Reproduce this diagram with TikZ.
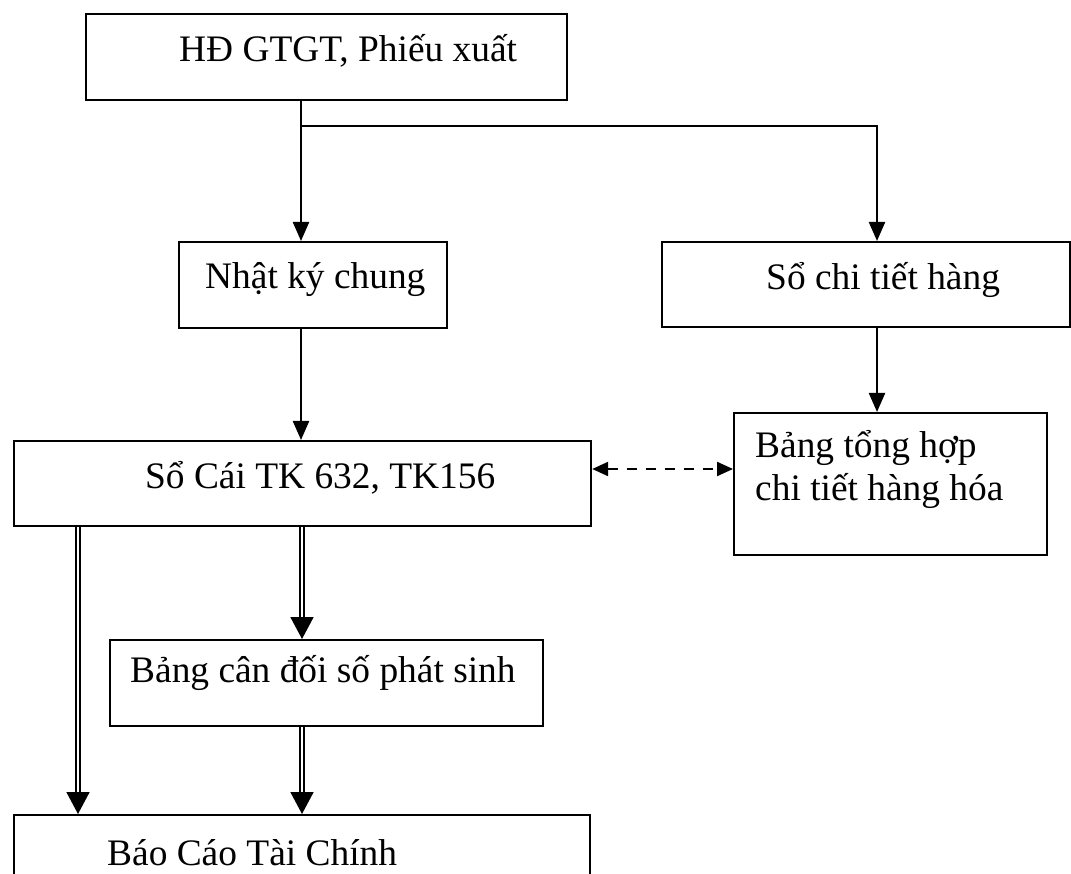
\documentclass[tikz,border=0pt]{standalone}
\usepackage{fontspec}
\setmainfont{Liberation Serif}
\usetikzlibrary{arrows.meta}

\tikzset{
  box/.style={draw=black, line width=2.2pt, inner sep=0pt, anchor=north west},
  lbl/.style={inner sep=0pt, anchor=west, font=\fontsize{37.4}{44}\selectfont},
  flow/.style={line width=2.2pt, -{Triangle[length=19pt,width=16pt]}},
  link/.style={line width=2.2pt, dash pattern=on 10pt off 9pt,
    {Triangle[length=16pt,width=14pt]}-{Triangle[length=16pt,width=14pt]}},
  sum/.style={line width=1.8pt, double, double distance=2.6pt,
    -{Triangle[length=22pt,width=23pt]}}
}

\begin{document}
\begin{tikzpicture}[x=1pt,y=-1pt]
  \useasboundingbox (0,0) rectangle (1071,874);
  \clip (0,0) rectangle (1071,874);

  % boxes
  \node[box, minimum width=481pt, minimum height=86pt] (b1) at (85,13) {};
  \node[box, minimum width=268pt, minimum height=86pt] (b2) at (178,241) {};
  \node[box, minimum width=408pt, minimum height=85pt] (b3) at (661,241) {};
  \node[box, minimum width=577pt, minimum height=85pt] (b4) at (13,440) {};
  \node[box, minimum width=313pt, minimum height=142pt] (b5) at (733,412) {};
  \node[box, minimum width=433pt, minimum height=86pt] (b6) at (109,639) {};
  \node[box, minimum width=576pt, minimum height=90pt] (b7) at (13,814) {};

  % texts
  \node[lbl] (t1) at (179,51) {HĐ GTGT, Phiếu xuất};
  \node[lbl] (t2) at (205,280) {Nhật ký chung};
  \node[lbl] (t3) at (766,280) {Sổ chi tiết hàng};
  \node[lbl] (t4) at (145,478) {Sổ Cái TK 632, TK156};
  \node[lbl] (t5a) at (755,448) {Bảng tổng hợp};
  \node[lbl] (t5b) at (755,491) {chi tiết hàng hóa};
  \node[lbl] (t6) at (130,673) {Bảng cân đối số phát sinh};
  \node[lbl] (t7) at (107,853) {Báo Cáo Tài Chính};

  % column positions of the connectors
  \coordinate (cL) at (301,0);
  \coordinate (cR) at (877,0);
  \coordinate (cD) at (78,0);
  \coordinate (cM) at (302,0);
  \coordinate (fork) at (301,126);

  % single arrows
  \draw[flow] (b1.south -| cL) -- (b2.north -| cL);
  \draw[flow] (fork) -| (b3.north -| cR);
  \draw[flow] (b2.south -| cL) -- (b4.north -| cL);
  \draw[flow] (b3.south -| cR) -- (b5.north -| cR);

  % dashed two-way link
  \draw[link] (b4.east |- 0,469) -- (b5.west |- 0,469);

  % double arrows
  \draw[sum] (b4.south -| cD) -- (b7.north -| cD);
  \draw[sum] (b4.south -| cM) -- (b6.north -| cM);
  \draw[sum] (b6.south -| cM) -- (b7.north -| cM);
\end{tikzpicture}
\end{document}
